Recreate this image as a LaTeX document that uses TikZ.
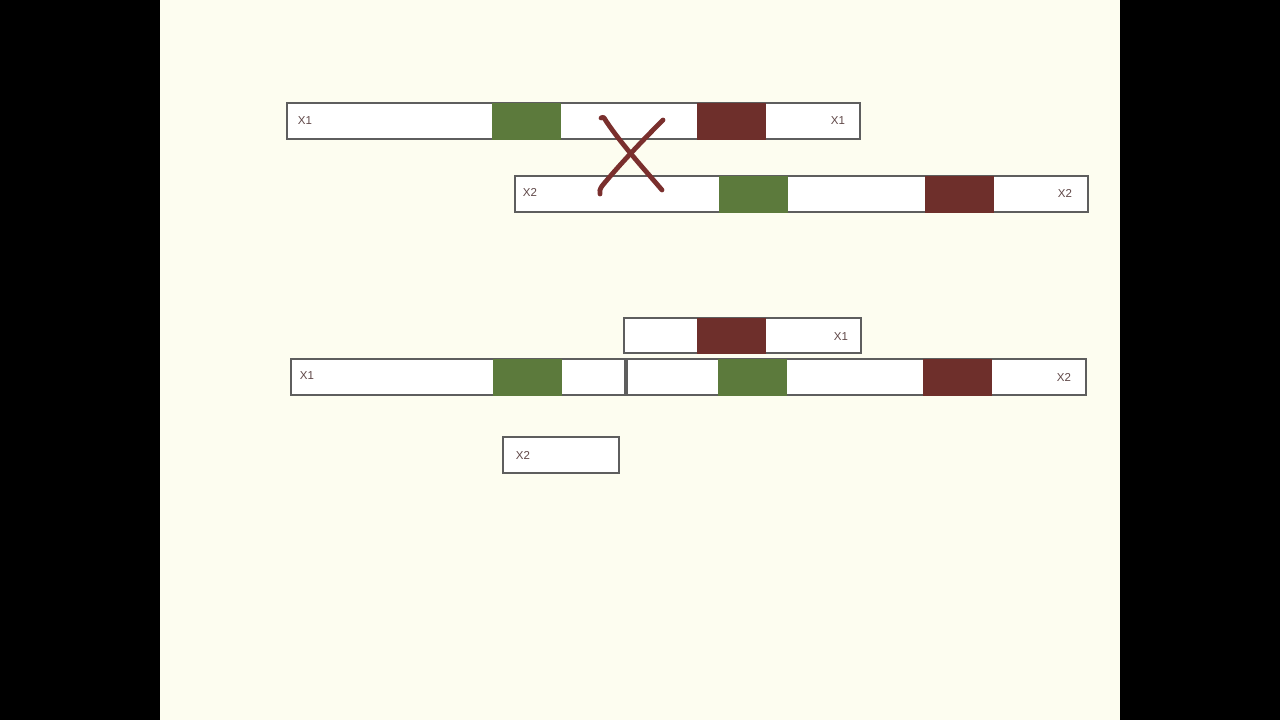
\documentclass[tikz,border=0pt]{standalone}
\usepackage{fontspec}
\setmainfont{Liberation Sans}
\definecolor{cream}{HTML}{FDFDF0}
\definecolor{edge}{HTML}{5E5E5E}
\definecolor{gblock}{HTML}{5C7A3C}
\definecolor{rblock}{HTML}{6E2F2B}
\definecolor{xred}{HTML}{7A2F2D}
\definecolor{lbl}{HTML}{604848}
\begin{document}
\begin{tikzpicture}[x=1pt,y=-1pt,
  bar/.style={draw=edge,line width=2pt,fill=white,anchor=north west,inner sep=0pt,outer sep=0pt},
  gbox/.style={fill=gblock,anchor=north west,inner sep=0pt,outer sep=0pt,minimum width=69pt},
  rbox/.style={fill=rblock,anchor=north west,inner sep=0pt,outer sep=0pt,minimum width=69pt},
  lab/.style={text=lbl,font=\fontsize{11.5}{13}\selectfont,inner sep=0pt},
  xstroke/.style={draw=xred,line width=4.8pt,line cap=round,line join=round}]
\useasboundingbox (0,0) rectangle (1280,720);
\fill[black] (0,0) rectangle (1280,720);
\fill[cream] (160,0) rectangle (1120,720);
% top X1
\node[bar,minimum width=573pt,minimum height=36pt] (t1) at (287,103) {};
\node[gbox,minimum height=37pt] (t1g) at (492,102.5) {};
\node[rbox,minimum height=37pt] (t1r) at (697,102.5) {};
\node[lab] (t1a) at (305,121) {X1};
\node[lab] (t1b) at (838,121) {X1};
% top X2
\node[bar,minimum width=573pt,minimum height=36pt] (t2) at (515,176) {};
\node[gbox,minimum height=37pt] (t2g) at (719,175.5) {};
\node[rbox,minimum height=37pt] (t2r) at (925,175.5) {};
\node[lab] (t2a) at (530,192) {X2};
\node[lab] (t2b) at (1065,193) {X2};
% cross
\draw[xstroke] (601,118) .. controls (602,116) and (604,117) .. (606,121) .. controls (622,145) and (645,170) .. (662,190);
\draw[xstroke] (600,194) .. controls (599,192) and (600,189) .. (602,186) .. controls (620,164) and (645,138) .. (661,122) .. controls (662,121) and (663,120) .. (663,120);
% bottom small X1
\node[bar,minimum width=237pt,minimum height=35pt] (b0) at (624,318) {};
\node[rbox,minimum height=36pt] (b0r) at (697,317.5) {};
\node[lab] (b0a) at (841,337) {X1};
% bottom long
\node[bar,minimum width=334pt,minimum height=36pt] (b1) at (291,359) {};
\node[gbox,minimum height=37pt] (b1g) at (492.5,358.5) {};
\node[lab] (b1a) at (307,376) {X1};
\node[bar,minimum width=459pt,minimum height=36pt] (b2) at (627,359) {};
\node[gbox,minimum height=37pt] (b2g) at (718,358.5) {};
\node[rbox,minimum height=37pt] (b2r) at (922.5,358.5) {};
\node[lab] (b2a) at (1064,377) {X2};
% small X2
\node[bar,minimum width=116pt,minimum height=36pt] (b3) at (503,437) {};
\node[lab] (b3a) at (523,455) {X2};
\end{tikzpicture}
\end{document}
